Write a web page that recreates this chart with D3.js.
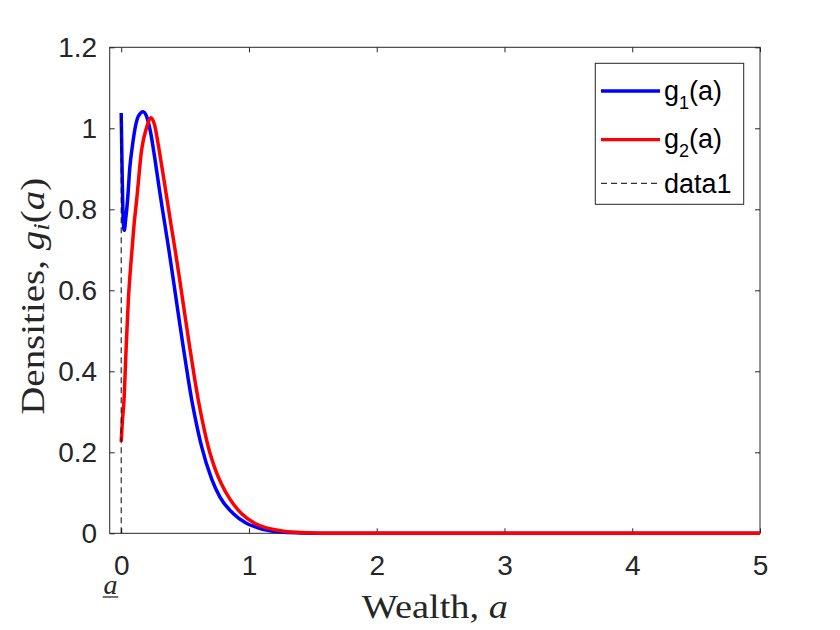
<!DOCTYPE html>
<html>
<head>
<meta charset="utf-8">
<script src="https://cdn.jsdelivr.net/npm/d3@7"></script>
<style>
  body { margin: 0; background: #fff; }
  svg { display: block; }
</style>
</head>
<body>
<div id="chart"></div>
<script>
// values
const wealth1 = [0, 0.008, 0.016, 0.024, 0.035, 0.05, 0.068, 0.085, 0.102, 0.133, 0.172, 0.2, 0.23, 0.265, 0.303, 0.34, 0.373, 0.405, 0.433, 0.46, 0.485, 0.524, 0.55, 0.576, 0.628, 0.707, 0.772, 0.876, 0.98, 1.06, 1.137, 1.25, 1.4, 1.6, 2, 2.5, 3, 3.5, 4, 4.5, 5];
const density1 = [1.038, 0.88, 0.77, 0.748, 0.775, 0.823, 0.905, 0.95, 0.988, 1.029, 1.041, 1.028, 0.99, 0.922, 0.84, 0.766, 0.7, 0.632, 0.572, 0.514, 0.461, 0.382, 0.333, 0.29, 0.216, 0.135, 0.09, 0.049, 0.025, 0.015, 0.008, 0.003, 0.001, 0, 0, 0, 0, 0, 0, 0, 0];

const wealth2 = [0, 0.01, 0.022, 0.038, 0.056, 0.082, 0.1, 0.121, 0.16, 0.2, 0.232, 0.26, 0.289, 0.32, 0.355, 0.39, 0.425, 0.455, 0.485, 0.51, 0.537, 0.576, 0.61, 0.65, 0.693, 0.74, 0.785, 0.85, 0.941, 1.045, 1.13, 1.215, 1.3, 1.4, 1.6, 2, 2.5, 3, 3.5, 4, 4.5, 5];
const density2 = [0.226, 0.28, 0.329, 0.452, 0.576, 0.69, 0.76, 0.823, 0.947, 1.003, 1.026, 1.01, 0.962, 0.902, 0.832, 0.762, 0.694, 0.632, 0.568, 0.515, 0.458, 0.38, 0.318, 0.256, 0.2, 0.155, 0.122, 0.085, 0.049, 0.025, 0.014, 0.008, 0.004, 0.002, 0, 0, 0, 0, 0, 0, 0, 0];

const amin = 0;
const aminLine = [0, 1.038];

const xTicks = [0, 1, 2, 3, 4, 5];
const yTicks = [0, 0.2, 0.4, 0.6, 0.8, 1, 1.2];

const legendNames = [
  { base: 'g', sub: '1', rest: '(a)', color: '#0000ff', dash: null, width: 3.3 },
  { base: 'g', sub: '2', rest: '(a)', color: '#ff0000', dash: null, width: 3.3 },
  { base: 'data1', sub: null, rest: '', color: '#000', dash: '6,4', width: 1 }
];

const W = 840, H = 630;
const box = { left: 109.7, right: 760, top: 47.3, bottom: 533.3 };
const axisColor = '#262626';
const sansFont = '"Liberation Sans", Arial, Helvetica, sans-serif';
const serifFont = '"Liberation Serif", "Times New Roman", serif';

const svg = d3.select('#chart')
  .append('svg')
  .attr('width', W)
  .attr('height', H);

svg.append('rect').attr('width', W).attr('height', H).attr('fill', '#fff');

const x = d3.scaleLinear().domain([-0.09, 5]).range([box.left, box.right]);
const y = d3.scaleLinear().domain([0, 1.2]).range([box.bottom, box.top]);

// axes, ticks pointing inward like matlab
function styleAxis(g) {
  g.select('.domain').remove();
  g.selectAll('.tick line').attr('stroke', axisColor).attr('stroke-width', 1);
  g.selectAll('.tick text')
    .attr('fill', axisColor)
    .style('font-family', sansFont)
    .style('font-size', '28px');
}

svg.append('g')
  .attr('transform', `translate(0,${box.bottom})`)
  .call(d3.axisBottom(x).tickValues(xTicks).tickSizeInner(-5).tickSizeOuter(0).tickPadding(22).tickFormat(d3.format('d')))
  .call(styleAxis);

svg.append('g')
  .attr('transform', `translate(0,${box.top})`)
  .call(d3.axisTop(x).tickValues(xTicks).tickSizeInner(-5).tickSizeOuter(0).tickFormat(''))
  .call(styleAxis);

svg.append('g')
  .attr('transform', `translate(${box.left},0)`)
  .call(d3.axisLeft(y).tickValues(yTicks).tickSizeInner(-5).tickSizeOuter(0).tickPadding(12.5).tickFormat(d => d === 0 || d === 1 ? d3.format('d')(d) : d3.format('.1f')(d)))
  .call(styleAxis);

svg.append('g')
  .attr('transform', `translate(${box.right},0)`)
  .call(d3.axisRight(y).tickValues(yTicks).tickSizeInner(-5).tickSizeOuter(0).tickFormat(''))
  .call(styleAxis);

svg.append('rect')
  .attr('x', box.left)
  .attr('y', box.top)
  .attr('width', box.right - box.left)
  .attr('height', box.bottom - box.top)
  .attr('fill', 'none')
  .attr('stroke', axisColor)
  .attr('stroke-width', 1);

// curves
const line = d3.line()
  .x(d => x(d[0]))
  .y(d => y(d[1]))
  .curve(d3.curveMonotoneX);

svg.append('path')
  .datum(d3.zip(wealth1, density1))
  .attr('fill', 'none')
  .attr('stroke', '#0000ff')
  .attr('stroke-width', 3.5)
  .attr('stroke-linejoin', 'round')
  .attr('d', line);

svg.append('path')
  .datum(d3.zip(wealth2, density2))
  .attr('fill', 'none')
  .attr('stroke', '#ff0000')
  .attr('stroke-width', 3.5)
  .attr('stroke-linejoin', 'round')
  .attr('d', line);

svg.append('line')
  .attr('x1', x(amin)).attr('x2', x(amin))
  .attr('y1', y(aminLine[0])).attr('y2', y(aminLine[1]))
  .attr('stroke', '#000')
  .attr('stroke-width', 1)
  .attr('stroke-dasharray', '6,4');

// axis labels (latex style)
const xLabel = svg.append('text')
  .attr('x', (box.left + box.right) / 2)
  .attr('y', 618)
  .attr('text-anchor', 'middle')
  .attr('textLength', 146)
  .attr('lengthAdjust', 'spacingAndGlyphs')
  .style('font-family', serifFont)
  .style('font-size', '33px')
  .attr('fill', '#262626');
xLabel.append('tspan').text('Wealth, ');
xLabel.append('tspan').style('font-style', 'italic').text('a');

const yLabel = svg.append('text')
  .attr('transform', `translate(44,${(box.top + box.bottom) / 2 + 6}) rotate(-90)`)
  .attr('text-anchor', 'middle')
  .attr('textLength', 237)
  .attr('lengthAdjust', 'spacingAndGlyphs')
  .style('font-family', serifFont)
  .style('font-size', '33px')
  .attr('fill', '#262626');
yLabel.append('tspan').text('Densities, ');
yLabel.append('tspan').style('font-style', 'italic').text('g');
yLabel.append('tspan').style('font-style', 'italic').style('font-size', '23px').attr('dy', 5).text('i');
yLabel.append('tspan').attr('dy', -5).text('(');
yLabel.append('tspan').style('font-style', 'italic').text('a');
yLabel.append('tspan').text(')');

// underlined a below the borrowing limit
svg.append('text')
  .attr('x', x(amin) - 10.7)
  .attr('y', 593.5)
  .attr('text-anchor', 'middle')
  .style('font-family', serifFont)
  .style('font-size', '28px')
  .style('font-style', 'italic')
  .attr('fill', '#262626')
  .text('a');
svg.append('line')
  .attr('x1', x(amin) - 18.5).attr('x2', x(amin) - 2.9)
  .attr('y1', 597).attr('y2', 597)
  .attr('stroke', '#262626')
  .attr('stroke-width', 1.3);

// legend
const legend = svg.append('g');
legend.append('rect')
  .attr('x', 595.3).attr('y', 63.3)
  .attr('width', 148.4).attr('height', 141)
  .attr('fill', '#fff')
  .attr('stroke', axisColor)
  .attr('stroke-width', 1);

const rowY = [91, 139.7, 183.3];
legendNames.forEach((d, i) => {
  const row = legend.append('g').attr('transform', `translate(0,${rowY[i]})`);
  row.append('line')
    .attr('x1', 601).attr('x2', 660)
    .attr('stroke', d.color)
    .attr('stroke-width', d.width)
    .attr('stroke-dasharray', d.dash);
  const t = row.append('text')
    .attr('x', 664)
    .attr('y', d.sub ? 8.5 : 10)
    .style('font-family', sansFont)
    .style('font-size', '27px')
    .attr('fill', '#000');
  t.append('tspan').text(d.base);
  if (d.sub) {
    t.append('tspan').attr('dy', 9).style('font-size', '18px').text(d.sub);
    t.append('tspan').attr('dy', -9).text(d.rest);
  }
});
</script>
</body>
</html>
